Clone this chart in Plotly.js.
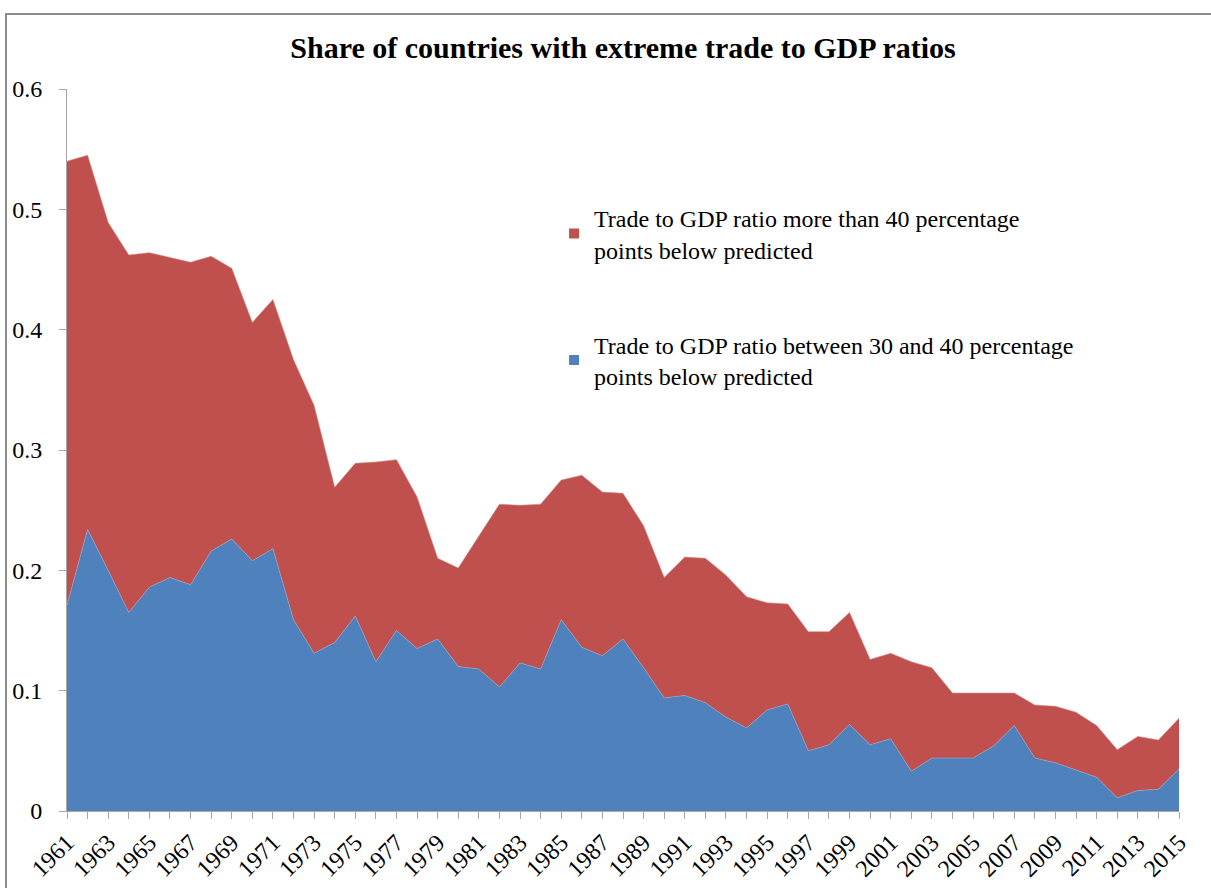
<!DOCTYPE html>
<html>
<head>
<meta charset="utf-8">
<script src="https://cdn.plot.ly/plotly-3.0.1.min.js"></script>
<style>
  html, body { margin: 0; padding: 0; background: #fff; }
  #frame { position: absolute; left: 5px; top: 13px; width: 1220px; height: 900px;
           border-left: 2px solid #8c8c8c; border-top: 2px solid #8c8c8c; box-sizing: border-box; }
  #chart { position: absolute; left: 0; top: 0; width: 1211px; height: 888px; }
</style>
</head>
<body>
<div id="frame"></div>
<div id="chart"></div>
<script>
const years = [1961,1962,1963,1964,1965,1966,1967,1968,1969,1970,
  1971,1972,1973,1974,1975,1976,1977,1978,1979,1980,
  1981,1982,1983,1984,1985,1986,1987,1988,1989,1990,
  1991,1992,1993,1994,1995,1996,1997,1998,1999,2000,
  2001,2002,2003,2004,2005,2006,2007,2008,2009,2010,
  2011,2012,2013,2014,2015];

// Trade to GDP ratio between 30 and 40 percentage points below predicted
const between30and40 = [0.171,0.234,0.200,0.165,0.186,0.194,0.188,0.216,0.226,0.208,
  0.218,0.159,0.131,0.140,0.162,0.124,0.150,0.135,0.143,0.120,
  0.118,0.103,0.123,0.118,0.159,0.136,0.129,0.143,0.119,0.094,
  0.096,0.090,0.078,0.069,0.084,0.089,0.050,0.055,0.072,0.055,
  0.060,0.033,0.044,0.044,0.044,0.054,0.071,0.044,0.040,0.034,
  0.028,0.011,0.017,0.018,0.035];

// Trade to GDP ratio more than 40 percentage points below predicted
const moreThan40 = [0.369,0.311,0.289,0.297,0.278,0.266,0.268,0.245,0.225,0.198,
  0.207,0.216,0.206,0.129,0.127,0.166,0.142,0.126,0.067,0.082,
  0.110,0.152,0.131,0.137,0.116,0.143,0.136,0.121,0.118,0.100,
  0.115,0.120,0.118,0.109,0.089,0.083,0.099,0.094,0.093,0.071,
  0.071,0.091,0.075,0.054,0.054,0.044,0.027,0.044,0.047,0.048,
  0.043,0.040,0.045,0.041,0.042];

const seriesNames = [
  "Trade to GDP ratio between 30 and 40 percentage<br>points below predicted",
  "Trade to GDP ratio more than 40 percentage<br>points below predicted"
];
const seriesColors = ['#4F81BD', '#C0504D'];
const titleText = "Share of countries with extreme trade to GDP ratios";

const font = "'Liberation Serif', 'Times New Roman', serif";

const data = [
  { x: years, y: between30and40, name: seriesNames[0], type: 'scatter', mode: 'lines',
    stackgroup: 'one', fillcolor: seriesColors[0], line: { color: '#8fa9d0', width: 0.6 },
    showlegend: false },
  { x: years, y: moreThan40, name: seriesNames[1], type: 'scatter', mode: 'lines',
    stackgroup: 'one', fillcolor: seriesColors[1], line: { color: '#d08a88', width: 0.6 },
    showlegend: false },
  // legend keys (square swatches), no data drawn
  { x: [null], y: [null], name: seriesNames[1], type: 'scatter', mode: 'markers',
    marker: { symbol: 'square', size: 10, color: seriesColors[1] }, legendgroup: 'a' },
  { x: [null], y: [null], name: seriesNames[0], type: 'scatter', mode: 'markers',
    marker: { symbol: 'square', size: 10, color: seriesColors[0] }, legendgroup: 'b' }
];

const layout = {
  width: 1211, height: 888,
  paper_bgcolor: 'rgba(0,0,0,0)', plot_bgcolor: 'rgba(0,0,0,0)',
  margin: { l: 67, r: 32, t: 89, b: 77 },
  font: { family: font, color: '#000', size: 24 },
  title: { text: '<b>' + titleText + '</b>', x: 0.5, xref: 'paper', y: 0.947, yref: 'container',
           yanchor: 'middle', font: { family: font, size: 30, color: '#000' } },
  showlegend: true,
  legend: { x: 0.438, y: 0.852, xanchor: 'left', yanchor: 'top',
            traceorder: 'grouped', tracegroupgap: 61,
            bgcolor: 'rgba(0,0,0,0)', font: { family: font, size: 24, color: '#000' },
            itemwidth: 30 },
  xaxis: {
    range: [1961, 2015], tick0: 1961, dtick: 2, tickangle: -45,
    showgrid: false, zeroline: false, showline: true, linecolor: '#a6a6a6', linewidth: 1,
    ticks: 'outside', ticklen: 7, tickcolor: '#a6a6a6',
    minor: { dtick: 1, tick0: 1961, ticks: 'outside', ticklen: 7, tickcolor: '#a6a6a6' },
    tickfont: { family: font, size: 24, color: '#000' }
  },
  yaxis: {
    range: [0, 0.6], dtick: 0.1, showgrid: false, zeroline: false,
    showline: true, linecolor: '#a6a6a6', linewidth: 1,
    ticks: 'outside', ticklen: 7, tickcolor: '#a6a6a6', ticklabelstandoff: 12,
    tickfont: { family: font, size: 24, color: '#000' }
  },
  hovermode: false
};

Plotly.newPlot('chart', data, layout, { displayModeBar: false, staticPlot: true });
</script>
</body>
</html>
